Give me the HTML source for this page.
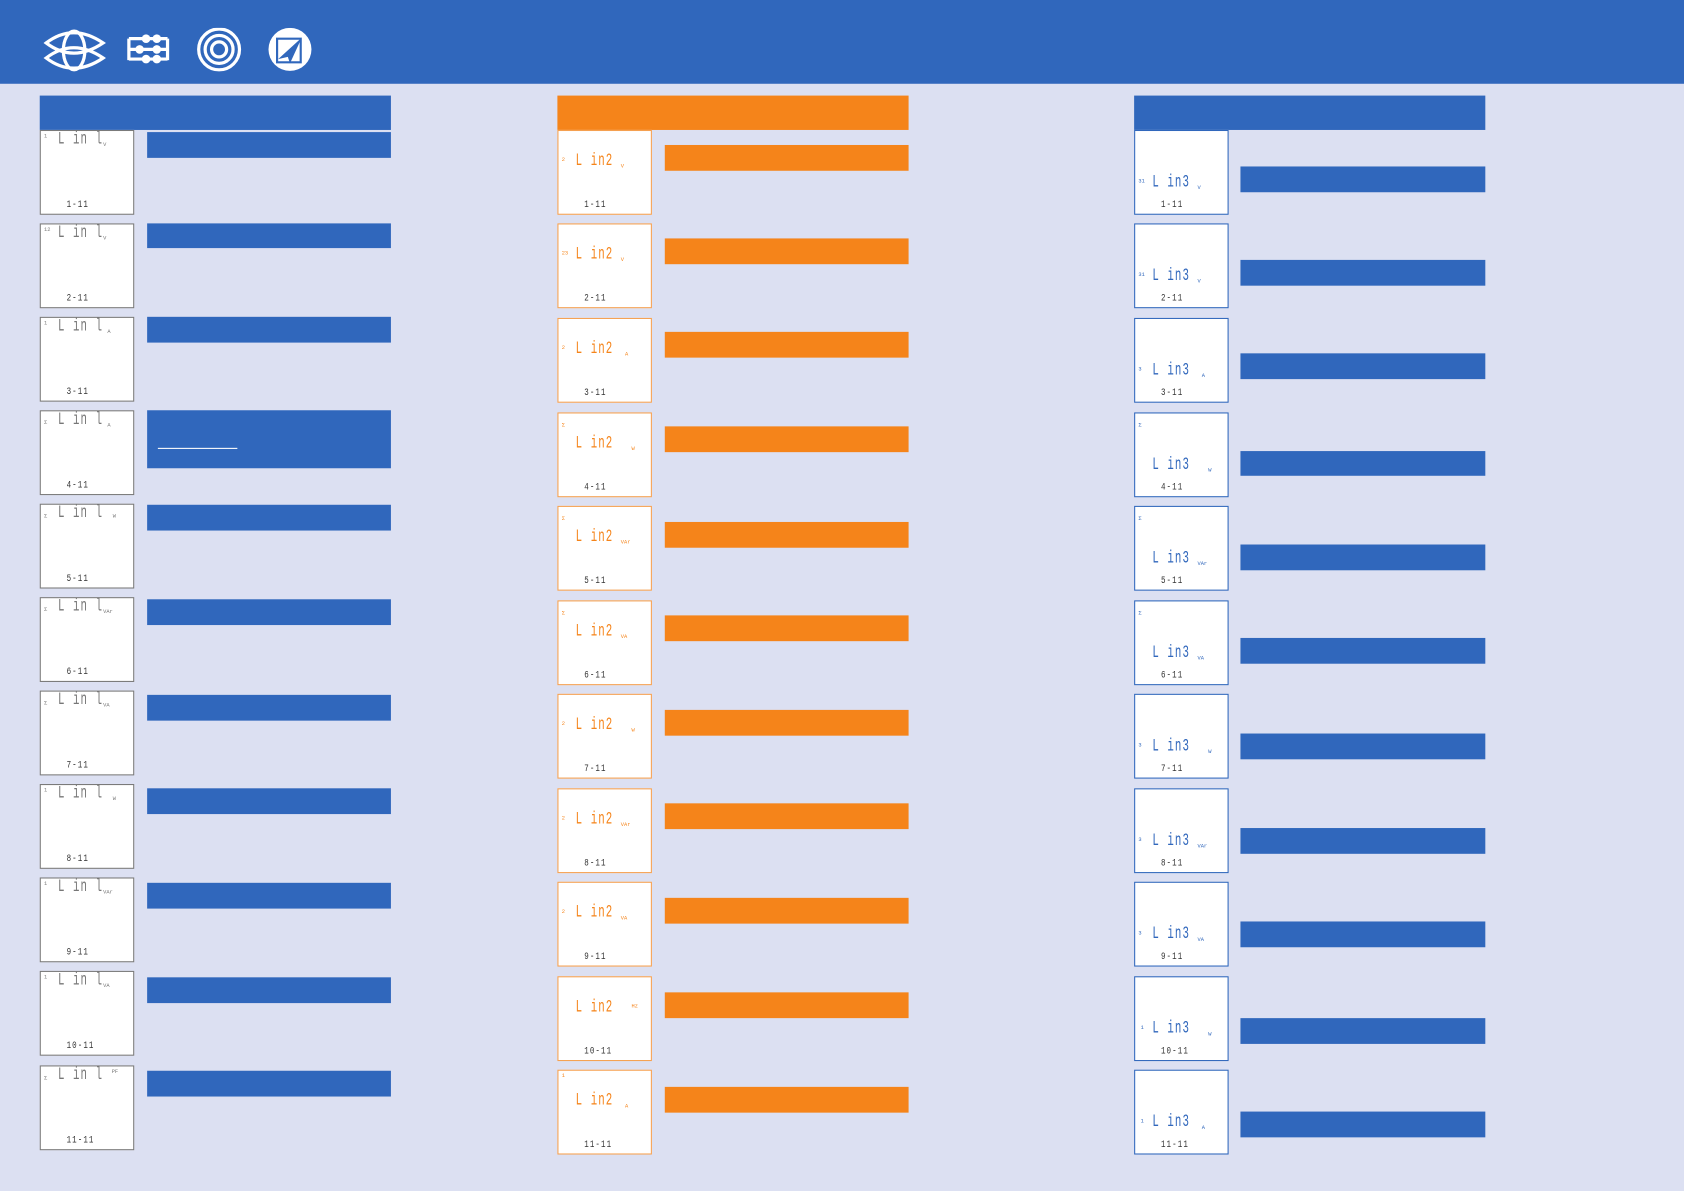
<!DOCTYPE html>
<html><head><meta charset="utf-8"><style>
html,body{margin:0;padding:0;background:#DCE0F2;overflow:hidden}
#w{position:absolute;left:0;top:0;width:1568px;height:1109px;transform:scale(1.07398);transform-origin:0 0;font-family:"Liberation Mono",monospace}
.a{position:absolute}
.hd{left:0;top:0;width:1568px;height:78px;background:#3067BC}
.b{background:#3067BC}.o{background:#F5841A}
.bx{position:absolute;width:86px;height:77px;background:#fff;border:1px solid #7a7a7a}
.ob{border-color:#F5A050}.cb{border-color:#3067BC}
.t{position:absolute;font-size:10px;letter-spacing:1px;white-space:nowrap;transform:scaleY(1.6);transform-origin:0 0;line-height:10px}
.n{position:absolute;font-size:5px}
.u{position:absolute;font-size:5px}
.l{position:absolute;font-size:7px;letter-spacing:1px;left:24px;bottom:2px;color:#333;transform:scaleY(1.4);transform-origin:0 100%}
.g{color:#777}.or{color:#F5841A}.bl{color:#3067BC}
</style></head><body><div id="w">
<div class="a hd"></div>
<svg class="a" style="left:38px;top:26px" width="260" height="44" viewBox="0 0 260 44">
<g fill="none" stroke="#fff" stroke-width="3">
<path d="M5 14 Q30 -5 58 14 Q30 33 5 14Z"/><path d="M5 28 Q30 9 58 28 Q30 47 5 28Z"/><ellipse cx="31" cy="21" rx="10" ry="18"/>
<path d="M82 10 V30 M82 10 H118 M82 20 H118 M82 29 H118 M118 10 V30"/>
<circle cx="166" cy="20" r="19"/><circle cx="166" cy="20" r="13"/><circle cx="166" cy="20" r="7"/>
</g>
<g fill="#fff"><circle cx="98" cy="10" r="4"/><circle cx="108" cy="10" r="4"/><circle cx="92" cy="20" r="4"/><circle cx="108" cy="20" r="4"/><circle cx="98" cy="29" r="4"/><circle cx="108" cy="29" r="4"/>
<circle cx="232" cy="20" r="20"/></g>
<path d="M220 10 H242 V32 H220Z" fill="none" stroke="#3067BC" stroke-width="2"/><path d="M243 9 L221 29 L230 27 L232 33Z" fill="#3067BC"/>
</svg>

<div class="a b" style="left:37px;top:89px;width:327px;height:32px"></div>
<div class="a o" style="left:519px;top:89px;width:327px;height:32px"></div>
<div class="a b" style="left:1056px;top:89px;width:327px;height:32px"></div>

<!-- column 1 -->
<div class="bx" style="left:37px;top:121px"><span class="n g" style="left:3px;top:2px">1</span><span class="t g" style="left:16px;top:2px">L in l</span><span class="u g" style="left:58px;top:10px">V</span><span class="l">1-11</span></div>
<div class="bx" style="left:37px;top:208px"><span class="n g" style="left:3px;top:2px">12</span><span class="t g" style="left:16px;top:2px">L in l</span><span class="u g" style="left:58px;top:10px">V</span><span class="l">2-11</span></div>
<div class="bx" style="left:37px;top:295px"><span class="n g" style="left:3px;top:2px">1</span><span class="t g" style="left:16px;top:2px">L in l</span><span class="u g" style="left:62px;top:10px">A</span><span class="l">3-11</span></div>
<div class="bx" style="left:37px;top:382px"><span class="n g" style="left:3px;top:8px">Σ</span><span class="t g" style="left:16px;top:2px">L in l</span><span class="u g" style="left:62px;top:10px">A</span><span class="l">4-11</span></div>
<div class="bx" style="left:37px;top:469px"><span class="n g" style="left:3px;top:8px">Σ</span><span class="t g" style="left:16px;top:2px">L in l</span><span class="u g" style="left:67px;top:8px">W</span><span class="l">5-11</span></div>
<div class="bx" style="left:37px;top:556px"><span class="n g" style="left:3px;top:8px">Σ</span><span class="t g" style="left:16px;top:2px">L in l</span><span class="u g" style="left:58px;top:10px">VAr</span><span class="l">6-11</span></div>
<div class="bx" style="left:37px;top:643px"><span class="n g" style="left:3px;top:8px">Σ</span><span class="t g" style="left:16px;top:2px">L in l</span><span class="u g" style="left:58px;top:10px">VA</span><span class="l">7-11</span></div>
<div class="bx" style="left:37px;top:730px"><span class="n g" style="left:3px;top:2px">1</span><span class="t g" style="left:16px;top:2px">L in l</span><span class="u g" style="left:67px;top:10px">W</span><span class="l">8-11</span></div>
<div class="bx" style="left:37px;top:817px"><span class="n g" style="left:3px;top:2px">1</span><span class="t g" style="left:16px;top:2px">L in l</span><span class="u g" style="left:58px;top:10px">VAr</span><span class="l">9-11</span></div>
<div class="bx" style="left:37px;top:904px"><span class="n g" style="left:3px;top:2px">1</span><span class="t g" style="left:16px;top:2px">L in l</span><span class="u g" style="left:58px;top:10px">VA</span><span class="l">10-11</span></div>
<div class="bx" style="left:37px;top:992px"><span class="n g" style="left:3px;top:8px">Σ</span><span class="t g" style="left:16px;top:2px">L in l</span><span class="u g" style="left:66px;top:2px">PF</span><span class="l">11-11</span></div>

<div class="a b" style="left:137px;top:123px;width:227px;height:24px"></div>
<div class="a b" style="left:137px;top:208px;width:227px;height:23px"></div>
<div class="a b" style="left:137px;top:295px;width:227px;height:24px"></div>
<div class="a b" style="left:137px;top:382px;width:227px;height:54px"></div>
<div class="a" style="left:147px;top:417px;width:74px;height:1px;background:#fff"></div>
<div class="a b" style="left:137px;top:470px;width:227px;height:24px"></div>
<div class="a b" style="left:137px;top:558px;width:227px;height:24px"></div>
<div class="a b" style="left:137px;top:647px;width:227px;height:24px"></div>
<div class="a b" style="left:137px;top:734px;width:227px;height:24px"></div>
<div class="a b" style="left:137px;top:822px;width:227px;height:24px"></div>
<div class="a b" style="left:137px;top:910px;width:227px;height:24px"></div>
<div class="a b" style="left:137px;top:997px;width:227px;height:24px"></div>

<!-- column 2 -->
<div class="bx ob" style="left:519px;top:121px"><span class="n or" style="left:3px;top:24px">2</span><span class="t or" style="left:16px;top:22px">L in2</span><span class="u or" style="left:58px;top:30px">V</span><span class="l">1-11</span></div>
<div class="bx ob" style="left:519px;top:208px"><span class="n or" style="left:3px;top:24px">23</span><span class="t or" style="left:16px;top:22px">L in2</span><span class="u or" style="left:58px;top:30px">V</span><span class="l">2-11</span></div>
<div class="bx ob" style="left:519px;top:296px"><span class="n or" style="left:3px;top:24px">2</span><span class="t or" style="left:16px;top:22px">L in2</span><span class="u or" style="left:62px;top:30px">A</span><span class="l">3-11</span></div>
<div class="bx ob" style="left:519px;top:384px"><span class="n or" style="left:3px;top:8px">Σ</span><span class="t or" style="left:16px;top:22px">L in2</span><span class="u or" style="left:68px;top:30px">W</span><span class="l">4-11</span></div>
<div class="bx ob" style="left:519px;top:471px"><span class="n or" style="left:3px;top:8px">Σ</span><span class="t or" style="left:16px;top:22px">L in2</span><span class="u or" style="left:58px;top:30px">VAr</span><span class="l">5-11</span></div>
<div class="bx ob" style="left:519px;top:559px"><span class="n or" style="left:3px;top:8px">Σ</span><span class="t or" style="left:16px;top:22px">L in2</span><span class="u or" style="left:58px;top:30px">VA</span><span class="l">6-11</span></div>
<div class="bx ob" style="left:519px;top:646px"><span class="n or" style="left:3px;top:24px">2</span><span class="t or" style="left:16px;top:22px">L in2</span><span class="u or" style="left:68px;top:30px">W</span><span class="l">7-11</span></div>
<div class="bx ob" style="left:519px;top:734px"><span class="n or" style="left:3px;top:24px">2</span><span class="t or" style="left:16px;top:22px">L in2</span><span class="u or" style="left:58px;top:30px">VAr</span><span class="l">8-11</span></div>
<div class="bx ob" style="left:519px;top:821px"><span class="n or" style="left:3px;top:24px">2</span><span class="t or" style="left:16px;top:22px">L in2</span><span class="u or" style="left:58px;top:30px">VA</span><span class="l">9-11</span></div>
<div class="bx ob" style="left:519px;top:909px"><span class="t or" style="left:16px;top:22px">L in2</span><span class="u or" style="left:68px;top:24px">Hz</span><span class="l">10-11</span></div>
<div class="bx ob" style="left:519px;top:996px"><span class="n or" style="left:3px;top:2px">1</span><span class="t or" style="left:16px;top:22px">L in2</span><span class="u or" style="left:62px;top:30px">A</span><span class="l">11-11</span></div>

<div class="a o" style="left:619px;top:135px;width:227px;height:24px"></div>
<div class="a o" style="left:619px;top:222px;width:227px;height:24px"></div>
<div class="a o" style="left:619px;top:309px;width:227px;height:24px"></div>
<div class="a o" style="left:619px;top:397px;width:227px;height:24px"></div>
<div class="a o" style="left:619px;top:486px;width:227px;height:24px"></div>
<div class="a o" style="left:619px;top:573px;width:227px;height:24px"></div>
<div class="a o" style="left:619px;top:661px;width:227px;height:24px"></div>
<div class="a o" style="left:619px;top:748px;width:227px;height:24px"></div>
<div class="a o" style="left:619px;top:836px;width:227px;height:24px"></div>
<div class="a o" style="left:619px;top:924px;width:227px;height:24px"></div>
<div class="a o" style="left:619px;top:1012px;width:227px;height:24px"></div>

<!-- column 3 -->
<div class="bx cb" style="left:1056px;top:121px"><span class="n bl" style="left:3px;top:44px">31</span><span class="t bl" style="left:16px;top:42px">L in3</span><span class="u bl" style="left:58px;top:50px">V</span><span class="l">1-11</span></div>
<div class="bx cb" style="left:1056px;top:208px"><span class="n bl" style="left:3px;top:44px">31</span><span class="t bl" style="left:16px;top:42px">L in3</span><span class="u bl" style="left:58px;top:50px">V</span><span class="l">2-11</span></div>
<div class="bx cb" style="left:1056px;top:296px"><span class="n bl" style="left:3px;top:44px">3</span><span class="t bl" style="left:16px;top:42px">L in3</span><span class="u bl" style="left:62px;top:50px">A</span><span class="l">3-11</span></div>
<div class="bx cb" style="left:1056px;top:384px"><span class="n bl" style="left:3px;top:8px">Σ</span><span class="t bl" style="left:16px;top:42px">L in3</span><span class="u bl" style="left:68px;top:50px">W</span><span class="l">4-11</span></div>
<div class="bx cb" style="left:1056px;top:471px"><span class="n bl" style="left:3px;top:8px">Σ</span><span class="t bl" style="left:16px;top:42px">L in3</span><span class="u bl" style="left:58px;top:50px">VAr</span><span class="l">5-11</span></div>
<div class="bx cb" style="left:1056px;top:559px"><span class="n bl" style="left:3px;top:8px">Σ</span><span class="t bl" style="left:16px;top:42px">L in3</span><span class="u bl" style="left:58px;top:50px">VA</span><span class="l">6-11</span></div>
<div class="bx cb" style="left:1056px;top:646px"><span class="n bl" style="left:3px;top:44px">3</span><span class="t bl" style="left:16px;top:42px">L in3</span><span class="u bl" style="left:68px;top:50px">W</span><span class="l">7-11</span></div>
<div class="bx cb" style="left:1056px;top:734px"><span class="n bl" style="left:3px;top:44px">3</span><span class="t bl" style="left:16px;top:42px">L in3</span><span class="u bl" style="left:58px;top:50px">VAr</span><span class="l">8-11</span></div>
<div class="bx cb" style="left:1056px;top:821px"><span class="n bl" style="left:3px;top:44px">3</span><span class="t bl" style="left:16px;top:42px">L in3</span><span class="u bl" style="left:58px;top:50px">VA</span><span class="l">9-11</span></div>
<div class="bx cb" style="left:1056px;top:909px"><span class="n bl" style="left:5px;top:44px">1</span><span class="t bl" style="left:16px;top:42px">L in3</span><span class="u bl" style="left:68px;top:50px">W</span><span class="l">10-11</span></div>
<div class="bx cb" style="left:1056px;top:996px"><span class="n bl" style="left:5px;top:44px">1</span><span class="t bl" style="left:16px;top:42px">L in3</span><span class="u bl" style="left:62px;top:50px">A</span><span class="l">11-11</span></div>

<div class="a b" style="left:1155px;top:155px;width:228px;height:24px"></div>
<div class="a b" style="left:1155px;top:242px;width:228px;height:24px"></div>
<div class="a b" style="left:1155px;top:329px;width:228px;height:24px"></div>
<div class="a b" style="left:1155px;top:420px;width:228px;height:23px"></div>
<div class="a b" style="left:1155px;top:507px;width:228px;height:24px"></div>
<div class="a b" style="left:1155px;top:594px;width:228px;height:24px"></div>
<div class="a b" style="left:1155px;top:683px;width:228px;height:24px"></div>
<div class="a b" style="left:1155px;top:771px;width:228px;height:24px"></div>
<div class="a b" style="left:1155px;top:858px;width:228px;height:24px"></div>
<div class="a b" style="left:1155px;top:948px;width:228px;height:24px"></div>
<div class="a b" style="left:1155px;top:1035px;width:228px;height:24px"></div>
</div></body></html>
